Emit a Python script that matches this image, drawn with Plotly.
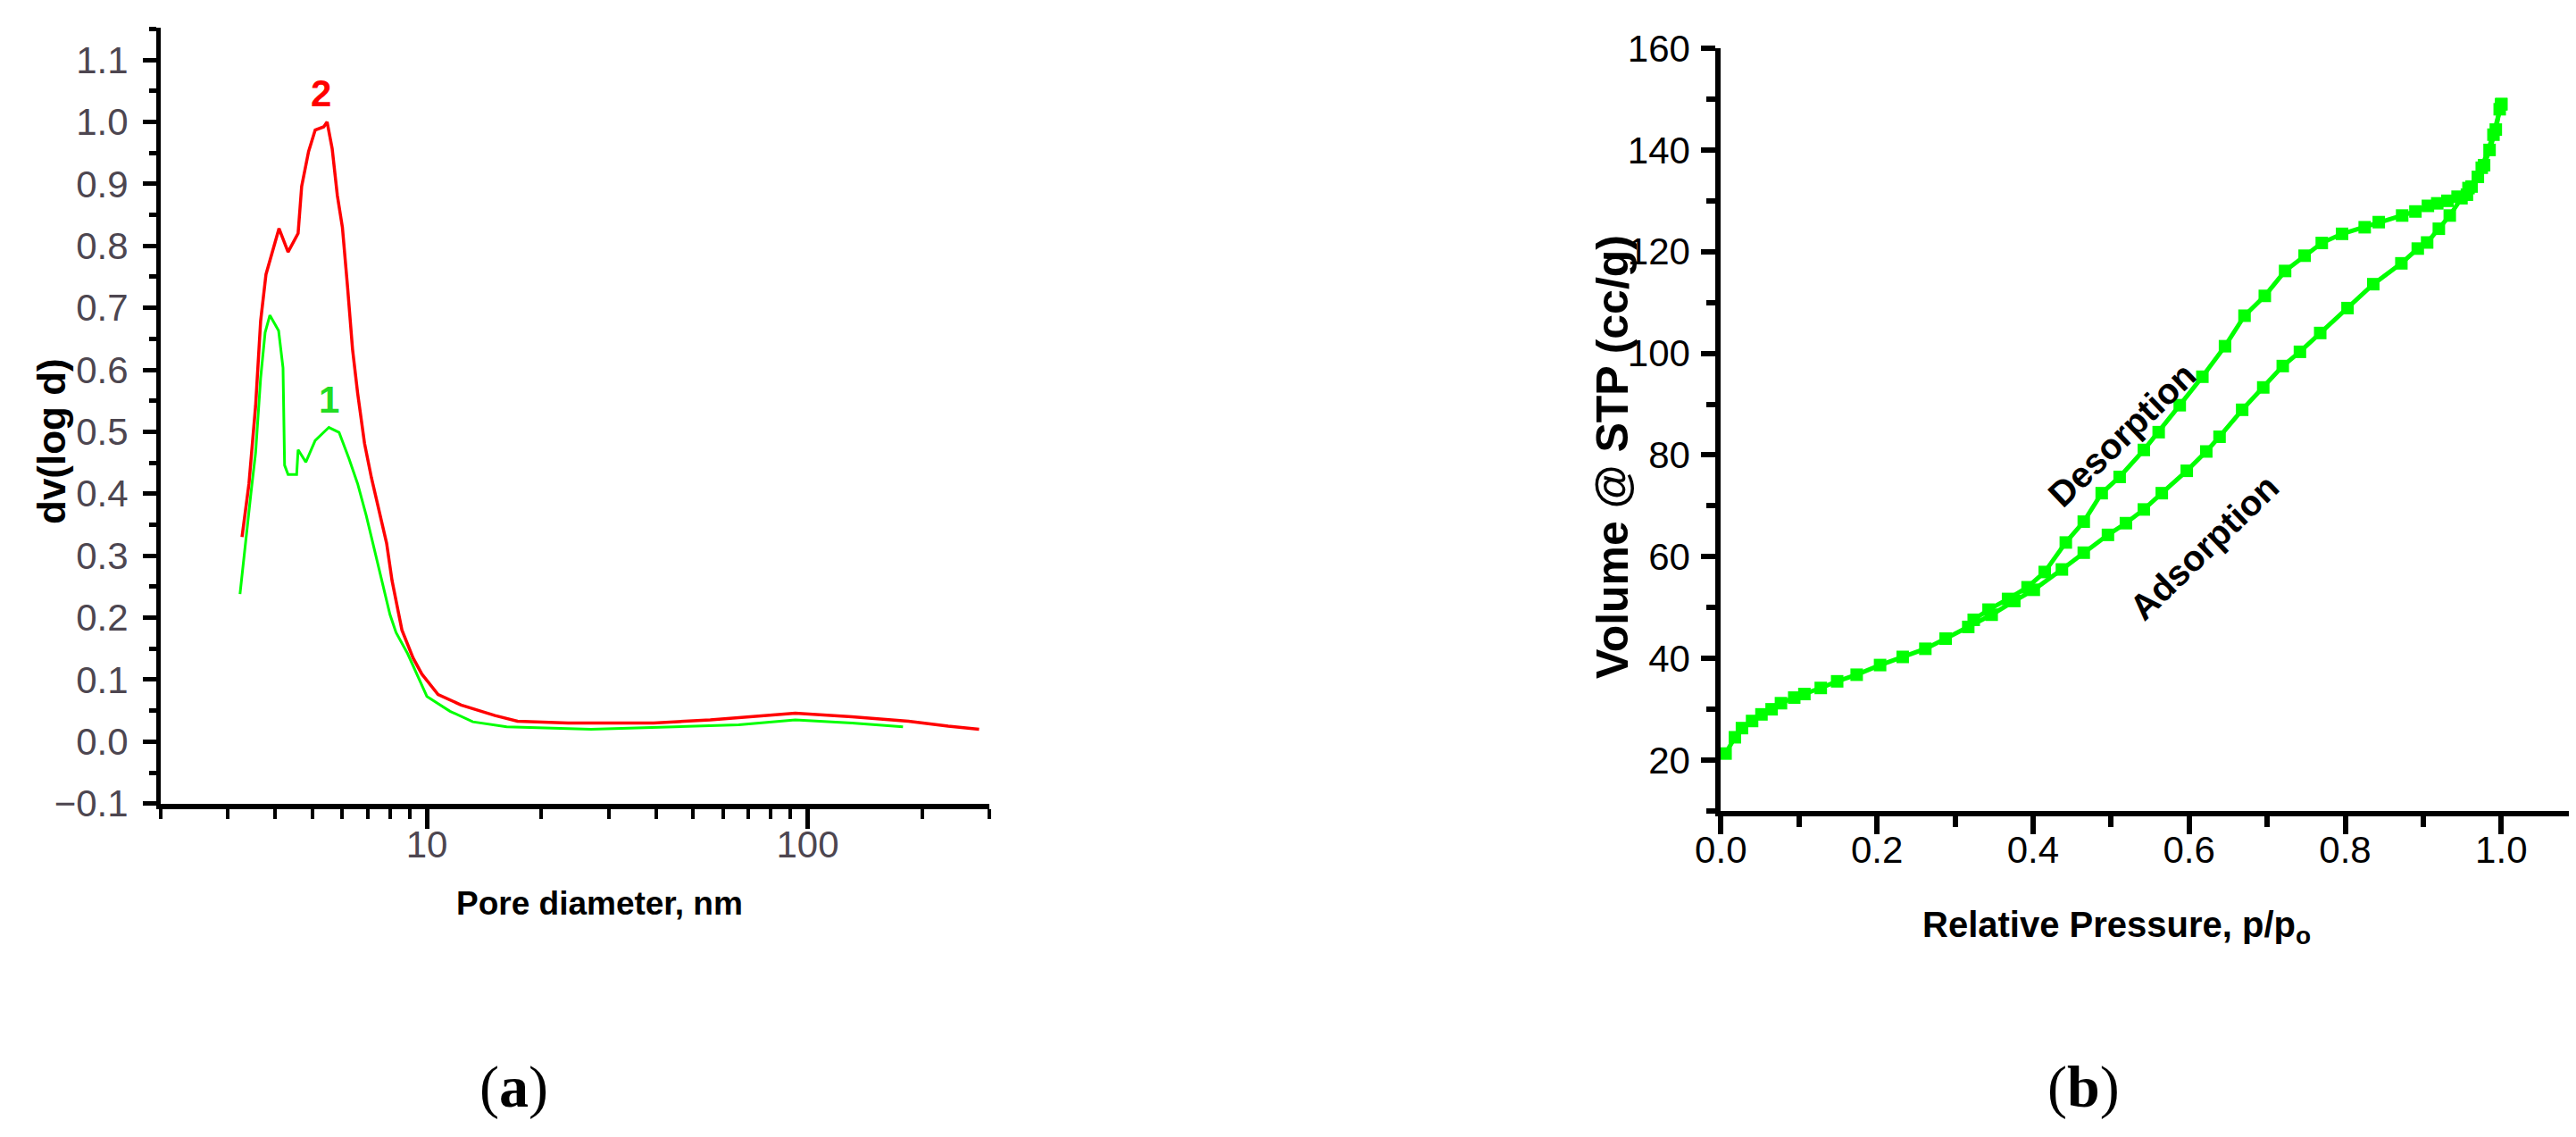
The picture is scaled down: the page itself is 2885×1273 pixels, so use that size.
import math
import plotly.graph_objects as go

W, H = 2885, 1273

# ---------------- Panel (a): pore size distribution ----------------
pore_d_2 = [3.27, 3.34, 3.41, 3.55, 3.66, 3.78, 3.90, 4.09, 4.32, 4.59, 4.69, 4.89, 5.09, 5.36, 5.47,
            5.64, 5.82, 6.00, 6.19, 6.38, 6.58, 6.86, 7.15, 7.52, 7.84, 8.1, 8.6, 9.2, 9.7, 10.7,
            12.3, 15.1, 17.3, 23.5, 39.4, 55.5, 78.1, 92.8, 130.7, 184, 234, 282]
dv_2 = [0.33, 0.375, 0.416, 0.542, 0.679, 0.754, 0.785, 0.828, 0.790, 0.820, 0.896, 0.952, 0.987, 0.992, 1.000,
        0.957, 0.881, 0.830, 0.734, 0.633, 0.562, 0.481, 0.426, 0.365, 0.320, 0.26, 0.18, 0.135, 0.109, 0.076,
        0.059, 0.042, 0.033, 0.030, 0.030, 0.035, 0.042, 0.046, 0.040, 0.033, 0.025, 0.020]

pore_d_1 = [3.23, 3.35, 3.45, 3.55, 3.66, 3.76, 3.87, 4.08, 4.19, 4.23, 4.32, 4.55, 4.59, 4.81, 5.09,
            5.53, 5.88, 6.25, 6.58, 6.93, 7.22, 7.6, 8.0, 8.3, 8.9, 10.0, 11.5, 13.2, 16.2, 27,
            39.4, 65.9, 92.8, 130.7, 178]
dv_1 = [0.238, 0.33, 0.40, 0.466, 0.587, 0.66, 0.688, 0.663, 0.603, 0.446, 0.431, 0.431, 0.471, 0.451, 0.486,
        0.507, 0.499, 0.456, 0.416, 0.365, 0.32, 0.26, 0.205, 0.176, 0.142, 0.073, 0.049, 0.032, 0.024, 0.020,
        0.023, 0.027, 0.035, 0.030, 0.024]

a_major_x = [10, 100]
a_major_x_text = ["10", "100"]
a_minor_x = [2, 3, 4, 5, 6, 7, 8, 9, 20, 30, 40, 50, 60, 70, 80, 90, 200, 300]

# ---------------- Panel (b): N2 isotherm ----------------
p_ads = [0.006, 0.018, 0.027, 0.040, 0.052, 0.065, 0.077, 0.094, 0.107, 0.128, 0.149, 0.174, 0.204, 0.233,
         0.262, 0.288, 0.317, 0.347, 0.376, 0.401, 0.437, 0.465, 0.496, 0.519, 0.542, 0.565, 0.597, 0.622,
         0.639, 0.668, 0.695, 0.720, 0.742, 0.768, 0.803, 0.836, 0.872, 0.893, 0.905, 0.920, 0.934, 0.949,
         0.958, 0.970, 0.978, 0.985, 0.993, 0.998, 1.0]
v_ads = [21.3, 24.5, 26.3, 27.7, 29.0, 30.0, 31.2, 32.3, 33.0, 34.2, 35.5, 36.8, 38.7, 40.3,
         41.9, 43.9, 46.2, 48.6, 51.3, 53.5, 57.5, 60.8, 64.3, 66.6, 69.3, 72.5, 76.9, 80.7,
         83.6, 88.9, 93.3, 97.5, 100.3, 104.0, 108.9, 113.6, 117.7, 120.6, 121.8, 124.5, 127.1, 130.5,
         132.5, 134.7, 137.0, 140.0, 144.0, 148.0, 149.0]

p_des = [1.0, 0.990, 0.975, 0.962, 0.956, 0.944, 0.931, 0.918, 0.906, 0.890, 0.873, 0.843, 0.825, 0.796,
         0.770, 0.748, 0.723, 0.697, 0.671, 0.646, 0.617, 0.588, 0.561, 0.542, 0.511, 0.488, 0.465, 0.442,
         0.415, 0.393, 0.368, 0.343, 0.324]
v_des = [149.0, 143.0, 136.5, 132.8, 131.2, 130.8, 130.0, 129.5, 129.0, 127.9, 127.1, 125.8, 124.8, 123.5,
         121.7, 119.2, 116.2, 111.3, 107.4, 101.4, 95.4, 89.8, 84.5, 81.0, 75.7, 72.5, 66.9, 62.8,
         57.0, 54.0, 51.7, 49.6, 47.6]

GREEN = "#00ff00"
RED = "#ff0000"
SANS = "Liberation Sans, Arial, sans-serif"
SERIF = "Liberation Serif, Times New Roman, serif"


def px(x):
    return x / W


def py(y):
    return 1 - y / H


fig = go.Figure()

fig.add_trace(go.Scatter(x=pore_d_2, y=dv_2, mode="lines", line=dict(color=RED, width=3.5),
                         xaxis="x", yaxis="y", showlegend=False))
fig.add_trace(go.Scatter(x=pore_d_1, y=dv_1, mode="lines", line=dict(color=GREEN, width=3),
                         xaxis="x", yaxis="y", showlegend=False))

fig.add_trace(go.Scatter(x=p_ads, y=v_ads, mode="lines+markers",
                         line=dict(color=GREEN, width=5),
                         marker=dict(symbol="square", size=14, color=GREEN),
                         xaxis="x2", yaxis="y2", showlegend=False, cliponaxis=False))
fig.add_trace(go.Scatter(x=p_des, y=v_des, mode="lines+markers",
                         line=dict(color=GREEN, width=5),
                         marker=dict(symbol="square", size=14, color=GREEN),
                         xaxis="x2", yaxis="y2", showlegend=False, cliponaxis=False))

a_tickfont = dict(family=SANS, size=42, color="#4d4650")
b_tickfont = dict(family=SANS, size=42, color="#000000")

fig.update_layout(
    width=W, height=H,
    margin=dict(l=0, r=0, t=0, b=0, autoexpand=False),
    paper_bgcolor="white", plot_bgcolor="white",
    xaxis=dict(domain=[px(172), px(1100)], type="log", automargin=False,
               range=[math.log10(2), math.log10(300)],
               tickmode="array", tickvals=a_major_x, ticktext=a_major_x_text,
               ticks="outside", ticklen=22, tickwidth=5, tickcolor="black",
               showline=True, linewidth=6, linecolor="black",
               showgrid=False, zeroline=False, tickfont=a_tickfont, ticklabelstandoff=-18,
               minor=dict(tickmode="array", tickvals=a_minor_x, ticks="outside",
                          ticklen=11, tickwidth=4, tickcolor="black", showgrid=False),
               anchor="y"),
    yaxis=dict(domain=[py(891.7), py(23)], range=[-0.1, 1.152], automargin=False,
               tick0=0, dtick=0.1, tickformat=".1f",
               ticks="outside", ticklen=15, tickwidth=5, tickcolor="black",
               showline=True, linewidth=5, linecolor="black",
               showgrid=False, zeroline=False, tickfont=a_tickfont, ticklabelstandoff=8,
               minor=dict(dtick=0.05, tick0=0, ticks="outside", ticklen=8, tickwidth=5,
                          tickcolor="black", showgrid=False),
               anchor="x"),
    xaxis2=dict(domain=[px(1919.3), px(2880.7)], range=[0, 1.1], automargin=False,
                tick0=0, dtick=0.2, tickformat=".1f",
                ticks="outside", ticklen=20, tickwidth=6, tickcolor="black",
                showline=True, linewidth=6, linecolor="black",
                showgrid=False, zeroline=False, tickfont=b_tickfont, ticklabelstandoff=-18,
                minor=dict(dtick=0.1, tick0=0, ticks="outside", ticklen=12, tickwidth=6,
                           tickcolor="black", showgrid=False),
                anchor="y2"),
    yaxis2=dict(domain=[py(900), py(46)], range=[10, 160], automargin=False,
                tick0=0, dtick=20,
                ticks="outside", ticklen=16, tickwidth=6, tickcolor="black",
                showline=True, linewidth=6, linecolor="black",
                showgrid=False, zeroline=False, tickfont=b_tickfont, ticklabelstandoff=4,
                minor=dict(dtick=10, tick0=0, ticks="outside", ticklen=10, tickwidth=6,
                           tickcolor="black", showgrid=False),
                anchor="x2"),
)


def ann(text, x, y, size, family=SANS, color="black", angle=0):
    fig.add_annotation(text=text, x=px(x), y=py(y), xref="paper", yref="paper",
                       showarrow=False, xanchor="center", yanchor="middle",
                       textangle=angle, font=dict(family=family, size=size, color=color))


ann("<b>dv(log d)</b>", 49, 486, 44, angle=-90)
ann("<b>Pore diameter, nm</b>", 663, 1003, 37)
ann("<b>2</b>", 351.7, 96.7, 42, color=RED)
ann("<b>1</b>", 360.5, 439.3, 42, color="#22dd22")

ann("<b>Volume @ STP (cc/g)</b>", 1798, 504, 50, angle=-90)
ann("<b>Relative Pressure, p/p<sub>o</sub></b>", 2362, 1030, 40)
ann("<b>Desorption</b>", 2368, 479, 40, angle=-44)
ann("<b>Adsorption</b>", 2460, 605, 40, angle=-44)

ann("(<b>a</b>)", 567, 1209, 66, family=SERIF)
ann("(<b>b</b>)", 2325, 1209, 66, family=SERIF)

fig.write_html("out.html")
